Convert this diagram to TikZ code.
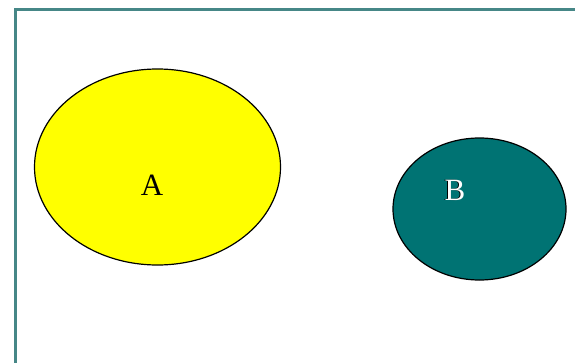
\documentclass[tikz,border=0pt]{standalone}
\usepackage{fontspec}
\setmainfont{Liberation Serif}
\usetikzlibrary{shapes.geometric}
\definecolor{frame}{RGB}{70,135,135}
\definecolor{tealB}{RGB}{0,115,115}
\definecolor{yellowA}{RGB}{255,255,0}
\tikzset{
  setel/.style={draw=black, line width=1.2pt, ellipse, inner sep=0pt},
  lbl/.style={font=\fontsize{31}{31}\selectfont, inner sep=0pt}
}
\begin{document}
\begin{tikzpicture}[x=1pt,y=-1pt]
\useasboundingbox (0,0) rectangle (575,362);
\fill[white] (0,0) rectangle (575,362);
\draw[frame, line width=3pt] (15,380) -- (15,9) -- (600,9);
\node[setel, fill=yellowA, minimum width=246pt, minimum height=196pt] (ea) at (157.5,167) {};
\node[setel, fill=tealB, minimum width=173pt, minimum height=142pt] (eb) at (479.5,209) {};
\node[lbl, text=black] (a) at (152,185) {A};
\node[lbl, text=black] (bs) at (454,190.8) {B};
\node[lbl, text=white] (b) at (455,190) {B};
\end{tikzpicture}
\end{document}
